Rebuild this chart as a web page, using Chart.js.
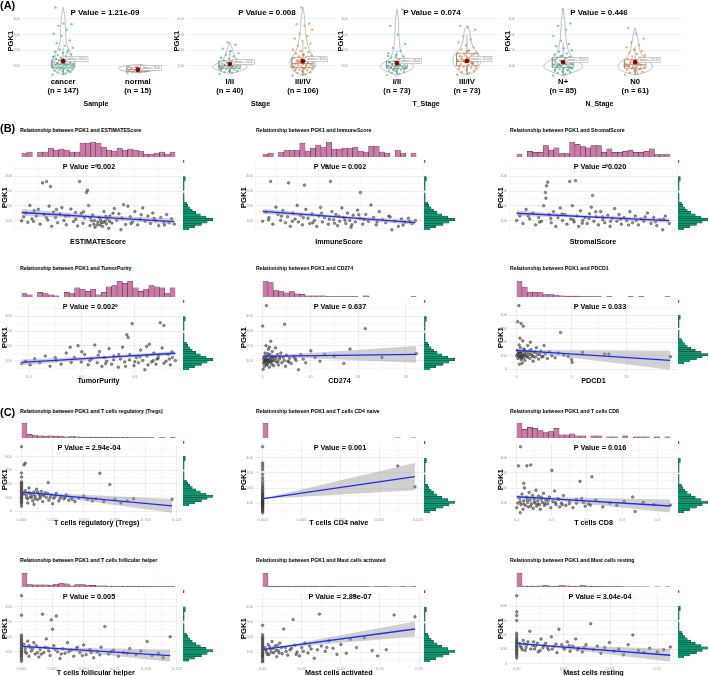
<!DOCTYPE html>
<html>
<head>
<meta charset="utf-8">
<script src="https://cdn.jsdelivr.net/npm/chart.js"></script>
<style>
  body { margin: 0; background: #fff; }
  #fig { position: relative; width: 709px; height: 676px; overflow: hidden; font-family: Arial, "Liberation Sans", sans-serif; }
  #fig canvas { position: absolute; }
  .t { position: absolute; font-weight: bold; color: #000; white-space: nowrap; line-height: 1; }
</style>
</head>
<body>
<div id="fig"></div>
<script>
// ---------- panel A: PGK1 by clinical group ----------
const aXTitles = ['Sample', 'Stage', 'T_Stage', 'N_Stage'];
const aGroupNames = [['cancer', 'normal'], ['I/II', 'III/IV'], ['I/II', 'III/IV'], ['N+', 'N0']];
const aGroupN = [[147, 15], [40, 106], [73, 73], [85, 61]];
const aPValues = ['1.21e-09', '0.008', '0.074', '0.446'];
const aMeans = [[130, 76], [112, 130], [118, 132], [125, 124]];
// [lower whisker, Q1, median, Q3, upper whisker]
const aBoxes = [
  [[45, 88, 112, 140, 215], [57, 65, 78, 92, 108]],
  [[55, 85, 100, 132, 200], [40, 90, 115, 155, 250]],
  [[45, 85, 100, 130, 200], [45, 100, 128, 180, 300]],
  [[40, 90, 112, 155, 250], [45, 85, 108, 140, 225]]
];
// violin outline: [PGK1, half width]
const violinCancer = [[42,0],[55,0.05],[65,0.09],[80,0.13],[95,0.155],[115,0.16],[130,0.15],[160,0.12],[200,0.08],[240,0.045],[300,0.035],[360,0.03],[420,0.02],[472,0]];
const violinNormal = [[57,0],[65,0.14],[75,0.24],[88,0.26],[100,0.17],[110,0]];
const violinStage12 = [[50,0],[65,0.12],[80,0.2],[95,0.24],[110,0.2],[130,0.12],[160,0.07],[200,0.04],[252,0]];
const violinStage34 = [[40,0],[55,0.08],[75,0.14],[100,0.17],[130,0.18],[160,0.14],[200,0.09],[250,0.06],[300,0.04],[360,0.03],[420,0.02],[472,0]];
const violinT12 = [[40,0],[60,0.12],[80,0.21],[100,0.24],[120,0.19],[150,0.1],[200,0.05],[260,0.035],[330,0.025],[400,0.02],[462,0]];
const violinT34 = [[43,0],[60,0.1],[90,0.16],[120,0.19],[150,0.2],[180,0.16],[220,0.09],[270,0.05],[320,0.04],[357,0]];
const violinNpos = [[38,0],[60,0.14],[80,0.24],[100,0.27],[125,0.22],[150,0.14],[190,0.08],[240,0.05],[300,0.035],[380,0.025],[462,0]];
const violinN0 = [[43,0],[60,0.14],[80,0.22],[100,0.24],[125,0.2],[150,0.13],[190,0.07],[240,0.05],[290,0.03],[345,0]];

const ptsCancer = [45,52,58,62,66,70,73,76,79,82,85,88,90,92,95,97,100,102,105,107,110,112,115,118,120,123,126,130,133,137,140,144,148,152,157,162,168,175,182,190,198,205,215,228,245,262,290,305,330,355,365,370,472,68,88,98,108,116,128,142,160,185];
const ptsNormal = [55,60,62,66,68,70,72,75,78,80,84,88,92,98,105];
const ptsStage12 = [50,58,62,68,72,75,78,82,85,88,90,93,95,98,100,103,106,110,114,118,122,126,130,135,140,146,152,160,170,182,195,210,235,250,80,92,108,125,65,88];
const ptsStage34 = [40,48,55,60,65,70,74,78,82,85,88,92,95,98,100,104,108,112,116,120,124,128,132,136,140,145,150,155,160,166,172,180,188,196,205,215,228,242,258,275,290,305,330,355,365,370,472,90,110,130,150,170,75,118,142,102,86,126];
const ptsT12 = [42,50,56,62,66,70,74,78,82,86,90,94,98,102,106,110,114,118,122,127,132,138,145,152,160,170,182,196,215,240,300,355,460,85,95,105,115,80,100,125,140,72,92,108,88,130,155,165];
const ptsT34 = [45,55,62,70,76,82,88,94,100,106,112,118,124,130,136,142,148,155,162,170,178,186,195,205,218,232,250,270,290,330,345,355,110,128,140,150,160,175,190,98,120,135,85,200,145,115,165,180];
const ptsNpos = [40,48,55,60,65,70,75,80,84,88,92,96,100,104,108,112,116,120,125,130,135,140,146,152,158,165,172,180,190,200,212,225,240,260,290,330,355,370,460,78,94,102,110,118,98,86,128,138,150,106,90,115,142,72,162];
const ptsN0 = [45,52,58,64,70,75,80,85,90,95,100,105,110,115,120,126,132,138,145,152,160,168,176,185,195,205,218,232,250,275,305,340,82,92,98,108,118,128,88,102,112,140,155,72,96];

const aViolins = [[violinCancer, violinNormal], [violinStage12, violinStage34], [violinT12, violinT34], [violinNpos, violinN0]];
const aPoints = [[ptsCancer, ptsNormal], [ptsStage12, ptsStage34], [ptsT12, ptsT34], [ptsNpos, ptsN0]];

// ---------- panels B, C: PGK1 vs scores / immune cells ----------
// PGK1 marginal histogram, 30 bins over [35, 480]
const pgk1Range = [35, 480];
const pgk1Counts = [5,10,16,21,26,20,15,11,8,6,4,3,1,1,1,1,0,1,1,1,1,2,2,0,0,0,0,0,0,1];

const estimatePts = [[-1960,98],[-1880,125],[-1790,152],[-1720,88],[-1640,203],[-1560,112],[-1470,167],[-1390,131],[-1310,176],[-1240,76],[-1144,355],[-1080,142],[-988,365],[-940,104],[-890,198],[-833,330],[-790,62],[-720,158],[-640,121],[-560,86],[-470,146],[-390,188],[-310,101],[-220,72],[-130,133],[-40,178],[60,94],[140,155],[220,64],[296,365],[360,149],[430,82],[490,118],[568,290],[607,305],[650,202],[700,66],[760,99],[810,138],[850,76],[900,56],[957,472],[1010,91],[1060,121],[1090,70],[1140,86],[1190,61],[1250,162],[1290,96],[1340,77],[1380,112],[1430,48],[1480,131],[1560,84],[1650,182],[1740,102],[1830,146],[1910,38],[2010,208],[2090,74],[2180,198],[2270,126],[2360,91],[2450,162],[2560,71],[2660,109],[2760,186],[2850,96],[2960,131],[3060,81],[3150,152],[3270,101],[3380,66],[3460,121],[3580,89],[3690,141],[3780,86],[3880,112],[3990,76],
  [-1500,95],[-1000,120],[-600,175],[-250,130],[150,110],[450,160],[720,120],[880,100],[980,72],[1120,105],[1220,88],[1320,130],[1460,95],[1600,150],[1950,118],[2300,80],[2700,140],[3200,115],[3600,70]];
const immunePts = [[-736,96],[-660,158],[-590,121],[-552,365],[-500,76],[-430,191],[-380,141],[-320,102],[-270,168],[-210,86],[-160,126],[-138,355],[-100,62],[-40,151],[10,111],[60,203],[90,91],[140,136],[180,71],[230,340],[260,176],[310,116],[350,81],[400,146],[460,101],[510,61],[560,131],[600,189],[640,91],[690,121],[736,472],[780,76],[828,365],[860,161],[900,106],[950,141],[990,66],[1040,96],[1090,186],[1130,121],[1180,81],[1220,151],[1270,101],[1300,56],[1350,136],[1400,91],[1450,171],[1500,116],[1517,290],[1570,76],[1640,141],[1700,96],[1760,206],[1820,121],[1880,71],[1950,161],[2030,106],[2100,86],[2170,131],[2240,38],[2310,96],[2390,61],[2460,111],[2540,91],[2620,116],[2700,81],[2782,101],
  [-600,105],[-300,130],[-50,95],[200,120],[420,85],[620,150],[800,110],[920,82],[1020,128],[1160,103],[1320,72],[1480,140],[1600,108],[1900,92],[2200,125],[2500,70],[2650,95]];
const stromalPts = [[-1711,101],[-1640,131],[-1570,81],[-1500,176],[-1420,111],[-1350,151],[-1290,71],[-1220,121],[-1160,96],[-1110,201],[-1070,290],[-1060,251],[-1045,335],[-1020,360],[-990,141],[-940,86],[-890,161],[-840,61],[-790,121],[-740,186],[-690,101],[-640,141],[-590,76],[-530,365],[-510,111],[-470,201],[-430,91],[-400,370],[-370,131],[-330,61],[-290,166],[-240,101],[-190,121],[-140,81],[-90,146],[-50,191],[-20,270],[10,96],[60,126],[110,71],[160,161],[210,106],[250,86],[290,472],[320,136],[370,61],[420,116],[470,181],[520,96],[570,141],[620,76],[680,121],[740,101],[810,161],[870,86],[930,131],[1000,71],[1060,111],[1120,96],[1200,151],[1280,81],[1340,121],[1410,66],[1480,106],[1540,38],[1600,131],[1689,81],
  [-1450,130],[-1200,90],[-950,115],[-700,145],[-450,105],[-250,82],[-100,115],[50,160],[200,125],[380,95],[600,110],[780,70],[950,100],[1150,125],[1380,92],[1560,110]];
const purityPts = [[0.373,81],[0.388,96],[0.405,71],[0.422,112],[0.441,86],[0.462,131],[0.48,62],[0.503,101],[0.522,76],[0.541,151],[0.556,191],[0.572,121],[0.586,201],[0.598,91],[0.611,141],[0.624,71],[0.637,111],[0.649,206],[0.658,86],[0.667,161],[0.676,61],[0.685,121],[0.694,96],[0.703,181],[0.712,76],[0.721,131],[0.73,472],[0.738,56],[0.746,111],[0.754,191],[0.762,91],[0.77,275],[0.775,256],[0.781,141],[0.79,350],[0.797,66],[0.806,121],[0.814,86],[0.822,171],[0.83,101],[0.838,38],[0.846,131],[0.855,211],[0.863,91],[0.872,151],[0.88,76],[0.888,116],[0.896,356],[0.903,186],[0.91,337],[0.918,96],[0.926,141],[0.934,71],[0.942,121],[0.953,101],[0.845,196],[0.765,61],[0.72,106],[0.662,136],[0.884,111],
  [0.5,120],[0.56,88],[0.63,100],[0.69,80],[0.74,140],[0.78,105],[0.8,92],[0.82,126],[0.85,71],[0.87,100],[0.89,135],[0.91,82],[0.93,111],[0.94,160],[0.6,160]];
const cd274Pts = [[0,334],[0.1,41],[0.2,81],[0.3,121],[0.4,61],[0.5,151],[0.6,96],[0.7,201],[0.8,472],[0.85,111],[0.9,71],[1.0,131],[1.1,86],[1.2,176],[1.3,101],[1.4,56],[1.5,141],[1.6,91],[1.7,231],[1.8,116],[1.9,76],[2.0,161],[2.1,101],[2.3,66],[2.5,126],[2.7,186],[2.9,91],[3.1,141],[3.3,71],[3.5,111],[3.8,151],[4.0,86],[4.3,121],[4.6,346],[4.8,61],[5.0,136],[5.3,96],[5.6,116],[6.0,81],[6.5,126],[7.0,101],[7.5,38],[8.0,141],[8.5,111],[9.0,86],[10.1,166],[11,121],[12,96],[13,141],[15,131],[17,81],[18.3,178],[21.5,316],[25,121],[32.2,148],[0.3,91],[0.6,106],[1.1,146],[2.2,121],[1.4,191],
  [0.2,110],[0.4,95],[0.6,130],[0.8,75],[1.0,105],[1.2,90],[1.5,115],[1.8,95],[2.0,130],[2.4,100],[2.8,115],[3.2,92],[3.6,125],[4.5,100],[5.5,90],[6.8,115]];
const pdcd1Pts = [[0,101],[0.05,141],[0.1,353],[0.12,81],[0.2,472],[0.22,181],[0.26,121],[0.3,96],[0.34,161],[0.4,340],[0.42,71],[0.46,131],[0.5,106],[0.55,211],[0.6,320],[0.62,86],[0.66,151],[0.7,116],[0.75,66],[0.8,136],[0.9,96],[1.0,176],[1.1,111],[1.2,81],[1.25,201],[1.3,146],[1.4,101],[1.5,61],[1.6,126],[1.7,91],[1.8,161],[1.9,111],[2.0,76],[2.2,136],[2.4,96],[2.5,176],[2.6,116],[2.8,81],[3.0,131],[3.2,101],[3.5,86],[3.8,121],[4.0,273],[4.3,106],[4.7,96],[5.0,73],[5.05,53],[6.0,126],[8.0,113],[8.4,113],[14.0,93],[0.3,231],[0.25,38],[0.5,46],[0.15,121],[0.35,91],
  [0.1,110],[0.2,95],[0.3,130],[0.4,115],[0.45,85],[0.6,100],[0.7,140],[0.8,105],[0.9,125],[1.0,90],[1.1,135],[1.3,115],[1.5,95],[1.7,130],[2.1,110],[2.3,92]];
const tregsPts = [[0,472],[0,280],[0,250],[0,215],[0,205],[0,195],[0,185],[0,175],[0,165],[0,155],[0,145],[0,135],[0,125],[0,115],[0,105],[0,95],[0,85],[0,75],[0,65],[0,55],[0,38],[0.002,339],[0.003,352],[0.003,151],[0.004,121],[0.005,91],[0.005,61],[0.006,171],[0.007,131],[0.008,101],[0.009,76],[0.01,141],[0.01,51],[0.011,111],[0.012,161],[0.013,86],[0.014,126],[0.015,96],[0.016,146],[0.017,71],[0.018,116],[0.019,136],[0.02,101],[0.0215,210],[0.022,81],[0.024,121],[0.025,56],[0.026,96],[0.028,131],[0.03,76],[0.032,111],[0.034,91],[0.036,121],[0.038,81],[0.04,101],[0.043,71],[0.046,96],[0.05,111],[0.053,86],[0.057,76],[0.06,91],[0.063,278],[0.066,71],[0.071,196],[0.075,86],[0.08,61],[0.085,76],[0.09,91],[0.121,87],
  [0.002,126],[0.004,101],[0.006,136],[0.007,106],[0.009,121],[0.011,91],[0.013,141],[0.015,111],[0.017,121],[0.021,131],[0.023,101],[0.027,111],[0.031,96],[0.035,101],[0.041,86]];
const cd4Pts = [[0,38],[0,48],[0,56],[0,63],[0,70],[0,76],[0,82],[0,88],[0,93],[0,98],[0,103],[0,108],[0,113],[0,118],[0,124],[0,130],[0,137],[0,144],[0,151],[0,159],[0,167],[0,176],[0,186],[0,196],[0,207],[0,219],[0,233],[0,250],[0,268],[0,290],[0,320],[0,335],[0,350],[0,365],[0,472],[0.0174,345],[0.0196,208]];
const cd8Pts = [[0,71],[0.003,101],[0.005,346],[0.008,131],[0.011,472],[0.012,91],[0.015,161],[0.018,61],[0.02,116],[0.022,201],[0.025,86],[0.028,141],[0.029,346],[0.031,106],[0.033,76],[0.035,171],[0.038,121],[0.04,352],[0.042,96],[0.045,151],[0.047,66],[0.05,131],[0.052,101],[0.055,186],[0.057,81],[0.06,116],[0.062,146],[0.065,91],[0.067,61],[0.07,126],[0.073,106],[0.076,166],[0.079,86],[0.083,121],[0.088,96],[0.093,141],[0.097,71],[0.1,316],[0.103,111],[0.108,181],[0.112,91],[0.117,131],[0.122,76],[0.127,101],[0.133,151],[0.14,86],[0.15,116],[0.16,71],[0.17,101],[0.18,244],[0.185,131],[0.195,81],[0.205,96],[0.214,274],[0.225,121],[0.245,76],[0.265,101],[0.285,86],[0.306,112],[0.33,141],[0.337,46],[0.36,106],[0.39,91],[0.437,88],[0.01,38],[0.02,231],
  [0.01,110],[0.02,95],[0.03,125],[0.04,80],[0.05,112],[0.06,95],[0.07,140],[0.08,100],[0.09,118],[0.11,105],[0.12,125],[0.13,90],[0.15,98],[0.17,125],[0.19,105],[0.21,88]];
const tfhPts = [[0,472],[0,343],[0,212],[0,198],[0,186],[0,175],[0,165],[0,155],[0,145],[0,135],[0,125],[0,115],[0,105],[0,95],[0,85],[0,75],[0,65],[0,52],[0,38],[0.002,151],[0.003,121],[0.004,91],[0.005,171],[0.006,71],[0.007,131],[0.008,106],[0.01,161],[0.011,86],[0.012,141],[0.014,66],[0.015,116],[0.017,350],[0.018,96],[0.02,186],[0.021,126],[0.023,76],[0.024,312],[0.025,250],[0.026,141],[0.028,337],[0.029,101],[0.031,56],[0.033,121],[0.035,91],[0.037,161],[0.04,111],[0.042,71],[0.045,131],[0.047,96],[0.05,146],[0.052,81],[0.055,116],[0.058,61],[0.061,101],[0.064,131],[0.067,268],[0.07,86],[0.074,111],[0.078,71],[0.082,96],[0.087,121],[0.092,81],[0.096,106],[0.101,169],[0.105,76],[0.11,91],[0.114,61],[0.1195,200],
  [0.003,101],[0.006,141],[0.009,121],[0.013,95],[0.016,85],[0.019,131],[0.022,106],[0.027,116],[0.032,86],[0.038,101],[0.044,121],[0.049,76],[0.056,96],[0.063,81],[0.072,101],[0.085,91]];
const mastActPts = [[0,277],[0,215],[0,200],[0,190],[0,180],[0,170],[0,160],[0,150],[0,140],[0,130],[0,120],[0,110],[0,100],[0,92],[0,84],[0,76],[0,68],[0,58],[0,45],[0,38],[0.003,131],[0.005,101],[0.007,151],[0.008,86],[0.01,121],[0.012,171],[0.014,96],[0.016,141],[0.018,71],[0.02,111],[0.022,161],[0.025,91],[0.027,253],[0.029,131],[0.032,81],[0.035,116],[0.039,315],[0.041,146],[0.044,101],[0.047,76],[0.05,131],[0.054,161],[0.058,96],[0.062,121],[0.066,61],[0.0725,351],[0.075,141],[0.08,106],[0.085,176],[0.09,126],[0.095,86],[0.1,151],[0.107,94],[0.112,186],[0.117,472],[0.12,131],[0.13,196],[0.14,111],[0.147,75],[0.158,117],[0.168,345],[0.1947,333],
  [0.004,116],[0.006,86],[0.009,136],[0.011,101],[0.013,126],[0.017,111],[0.019,146],[0.021,96],[0.024,131],[0.03,106],[0.037,126],[0.043,86],[0.052,106],[0.06,141],[0.07,116],[0.082,131]];
const mastRestPts = [[0,472],[0,360],[0,335],[0,300],[0,210],[0,195],[0,180],[0,168],[0,156],[0,145],[0,135],[0,125],[0,115],[0,105],[0,95],[0,85],[0,75],[0,65],[0,52],[0,38],[0.003,141],[0.005,111],[0.007,161],[0.009,91],[0.011,131],[0.014,225],[0.015,101],[0.018,151],[0.02,121],[0.023,81],[0.026,171],[0.028,111],[0.031,141],[0.034,96],[0.037,186],[0.04,121],[0.043,76],[0.045,238],[0.048,131],[0.051,101],[0.054,151],[0.057,86],[0.06,121],[0.063,171],[0.066,106],[0.07,81],[0.074,131],[0.079,277],[0.082,96],[0.086,121],[0.09,71],[0.094,111],[0.099,146],[0.104,86],[0.109,101],[0.114,61],[0.119,131],[0.124,199],[0.13,91],[0.136,76],[0.142,106],[0.15,81],[0.157,96],[0.164,115],
  [0.004,121],[0.006,96],[0.008,136],[0.01,111],[0.012,151],[0.017,126],[0.019,101],[0.022,141],[0.025,91],[0.029,126],[0.033,111],[0.038,101],[0.042,136],[0.05,111],[0.056,126],[0.065,96],[0.072,111]];

// regression fit: [x, lower 95% CI, fit, upper 95% CI]
const estimateFit = [[-1960,132,155,178],[1000,112,124,136],[3990,72,93,114]];
const immuneFit = [[-736,144,162,180],[1000,116,125,134],[2782,71,87,103]];
const stromalFit = [[-1711,132,150,168],[-100,117,126,135],[1689,84,100,116]];
const purityFit = [[0.373,68,88,108],[0.72,116,125,134],[0.953,137,150,163]];
const cd274Fit = [[0,122,130,138],[3.5,124,131,138],[32.2,85,142,199]];
const pdcd1Fit = [[0,131,140,149],[1,127,135,143],[14,-3,67,137]];
const tregsFit = [[0,132,141,150],[0.012,124,131,138],[0.121,-10,40,90]];
const cd4Fit = [[0,124,130,136],[0.001,131,137,143],[0.0196,185,275,365]];
const cd8Fit = [[0,131,143,155],[0.08,123,132,141],[0.437,40,82,124]];
const tfhFit = [[0,127,137,147],[0.03,113,121,129],[0.1195,35,75,115]];
const mastActFit = [[0,111,118,125],[0.025,129,135,141],[0.1947,204,253,302]];
const mastRestFit = [[0,132,140,148],[0.03,119,125,131],[0.164,13,58,103]];

// marginal histograms of the x variable (29 bins between data min and max)
const estimateHist = [4,5,0,5,5,9,7,8,7,5,5,14,14,15,14,10,7,6,9,7,8,7,6,3,3,4,5,3,5];
const immuneHist = [3,4,0,5,7,7,7,14,6,9,12,10,15,8,8,9,9,10,6,5,11,11,5,4,0,7,4,0,4];
const stromalHist = [2,0,5,4,4,10,6,8,3,3,13,11,9,8,10,10,4,7,4,4,5,6,4,4,5,7,2,2,2];
const purityHist = [3,2,0,4,3,2,1,0,4,3,8,7,5,7,2,4,9,10,14,12,14,8,5,7,10,9,8,3,8];
const cd274Hist = [30,27,12,10,8,10,6,5,2,2,2,2,1,1,1,1,1,1,0,2,0,0,0,0,0,0,0,0,1];
const pdcd1Hist = [40,25,12,12,11,6,6,5,3,2,2,2,1,1,1,1,0,1,0,0,0,1,0,1,0,0,0,0,1];
const tregsHist = [50,12,8,7,6,7,6,5,4,5,4,3,3,3,3,2,2,2,1,2,1,1,1,1,1,0,1,0,1];
const cd4Hist = [143,0,0,0,0,0,0,0,0,0,0,0,0,0,0,0,0,0,0,0,0,0,0,0,0,1,0,0,1];
const cd8Hist = [14,8,10,9,7,5,6,9,3,3,4,2,2,0,2,2,0,1,1,0,2,0,1,1,1,0,1,0,1];
const tfhHist = [45,8,7,7,7,6,9,13,10,4,8,8,6,5,4,4,3,3,3,3,2,2,2,2,1,1,1,1,1];
const mastActHist = [80,5,4,4,5,4,4,5,4,4,3,3,4,2,2,3,2,2,2,2,1,2,2,2,1,1,2,1,2];
const mastRestHist = [60,4,4,4,5,6,4,3,6,5,4,4,6,4,3,3,2,2,2,2,1,1,1,1,1,0,1,0,1];

const scNames = ['ESTIMATEScore', 'ImmuneScore', 'StromalScore', 'TumorPurity', 'CD274', 'PDCD1',
  'T cells regulatory (Tregs)', 'T cells CD4 naive', 'T cells CD8', 'T cells follicular helper', 'Mast cells activated', 'Mast cells resting'];
const scPValues = ['0.002', '0.002', '0.020', '0.002', '0.637', '0.033', '2.94e-04', '0.001', '0.016', '0.005', '2.89e-07', '3.04e-04'];
const scXStep = [2000, 1000, 1000, 0.2, 10, 5, 0.025, 0.005, 0.1, 0.025, 0.05, 0.05];
const scXDec = [0, 0, 0, 1, 0, 0, 3, 3, 1, 3, 2, 2];

const panels = [
  {pts: estimatePts, fit: estimateFit, hist: estimateHist},
  {pts: immunePts, fit: immuneFit, hist: immuneHist},
  {pts: stromalPts, fit: stromalFit, hist: stromalHist},
  {pts: purityPts, fit: purityFit, hist: purityHist},
  {pts: cd274Pts, fit: cd274Fit, hist: cd274Hist},
  {pts: pdcd1Pts, fit: pdcd1Fit, hist: pdcd1Hist},
  {pts: tregsPts, fit: tregsFit, hist: tregsHist},
  {pts: cd4Pts, fit: cd4Fit, hist: cd4Hist},
  {pts: cd8Pts, fit: cd8Fit, hist: cd8Hist},
  {pts: tfhPts, fit: tfhFit, hist: tfhHist},
  {pts: mastActPts, fit: mastActFit, hist: mastActHist},
  {pts: mastRestPts, fit: mastRestFit, hist: mastRestHist}
];

// ---------- layout ----------
const FONT = 'Arial, "Liberation Sans", sans-serif';
const PINK = '#CC79A7', GREEN = '#009E73';
const GROUP_COLORS = ['rgba(27,158,119,0.55)', 'rgba(217,95,2,0.5)'];
const aLayout = [
  {left: 22, right: 170, yW: 16, min: 0.45, max: 2.43, pX: 105},
  {left: 186, right: 335, yW: 14, min: 0.4, max: 2.44, pX: 267},
  {left: 350, right: 502, yW: 14, min: 0.33, max: 2.5, pX: 432},
  {left: 517, right: 682, yW: 14, min: 0.36, max: 2.65, pX: 599}
];
const aPlotT = 1, aPlotB = 77, aXH = 31;
const cols = [
  {titleX: 20, plotL: 14, plotR: 183, yW: 14, histR: 213, pX: 89},
  {titleX: 256, plotL: 255, plotR: 424, yW: 16, histR: 455, pX: 340},
  {titleX: 510, plotL: 509, plotR: 678, yW: 13, histR: 708, pX: 600}
];
const rows = [
  {titleY: 131, histT: 142, plotT: 158, plotB: 233, xTitleY: 242},
  {titleY: 269, histT: 281, plotT: 298, plotB: 373, xTitleY: 381},
  {titleY: 412, histT: 423, plotT: 439, plotB: 516, xTitleY: 523},
  {titleY: 561, histT: 573, plotT: 588, plotB: 665, xTitleY: 673}
];

Chart.defaults.font.family = FONT;
Chart.defaults.animation = false;
Chart.defaults.plugins.legend.display = false;
Chart.defaults.plugins.tooltip.enabled = false;
Chart.defaults.layout.autoPadding = false;

const fig = document.getElementById('fig');

function addCanvas(x, y, w, h) {
  const c = document.createElement('canvas');
  c.width = w; c.height = h;
  c.style.left = x + 'px'; c.style.top = y + 'px';
  c.style.width = w + 'px'; c.style.height = h + 'px';
  fig.appendChild(c);
  return c;
}

function addText(txt, x, y, size, center) {
  const d = document.createElement('div');
  d.className = 't';
  d.textContent = txt;
  d.style.fontSize = size + 'px';
  d.style.top = (y - size * 0.49) + 'px';
  d.style.left = x + 'px';
  if (center) d.style.transform = 'translateX(-50%)';
  fig.appendChild(d);
}

function lineSet(pts, color, width) {
  return {data: pts.map(p => ({x: p[0], y: p[1]})), showLine: true, borderColor: color, borderWidth: width || 0.6, pointRadius: 0, tension: 0};
}

// deterministic spread of the jittered dots
function jitter(k) { return (((k * 0.6180339) % 1) - 0.5) * 0.28; }

function isMajor(v, step) { return Math.abs(v / step - Math.round(v / step)) < 1e-6; }

// small boxed label next to each group mean
const meanLabels = {
  id: 'meanLabels',
  afterDatasetsDraw(chart, args, opts) {
    const {ctx, scales: {x, y}} = chart;
    ctx.save();
    ctx.font = '2.6px ' + FONT;
    ctx.textBaseline = 'middle';
    opts.values.forEach((m, g) => {
      const px = x.getPixelForValue(g + 1) + 3, py = y.getPixelForValue(m) - 4.5;
      const txt = 'μ̂mean = ' + m.toFixed(2);
      const w = ctx.measureText(txt).width + 3;
      ctx.fillStyle = 'rgba(255,255,255,0.9)';
      ctx.fillRect(px, py, w, 5);
      ctx.strokeStyle = '#9a9a9a';
      ctx.lineWidth = 0.5;
      ctx.strokeRect(px, py, w, 5);
      ctx.fillStyle = '#777';
      ctx.fillText(txt, px + 1.5, py + 2.6);
    });
    ctx.restore();
  }
};

// ---------- panel A ----------
function groupPanel(i) {
  const L = aLayout[i];
  const cv = addCanvas(L.left - L.yW, aPlotT, L.right - L.left + L.yW, aPlotB - aPlotT + aXH);
  const ds = [];
  ds.push({data: aMeans[i].map((m, g) => ({x: g + 1, y: m})), pointRadius: 2.4, backgroundColor: '#8b0000', borderWidth: 0});
  aBoxes[i].forEach((b, g) => {
    const c = g + 1, w = 0.15;
    ds.push(lineSet([[c - w, b[1]], [c + w, b[1]], [c + w, b[3]], [c - w, b[3]], [c - w, b[1]]], '#8a8a8a'));
    ds.push(lineSet([[c - w, b[2]], [c + w, b[2]]], '#8a8a8a', 0.8));
    ds.push(lineSet([[c, b[3]], [c, b[4]]], '#8a8a8a'));
    ds.push(lineSet([[c, b[1]], [c, b[0]]], '#8a8a8a'));
  });
  aViolins[i].forEach((v, g) => {
    const c = g + 1;
    const right = v.map(d => ({x: c + d[1], y: d[0]}));
    const left = v.slice().reverse().map(d => ({x: c - d[1], y: d[0]}));
    ds.push({data: right.concat(left), showLine: true, tension: 0.3, borderColor: '#a6a6a6', borderWidth: 0.7, pointRadius: 0});
  });
  aPoints[i].forEach((vals, g) => {
    ds.push({data: vals.map((v, k) => ({x: g + 1 + jitter(k), y: v})), pointRadius: 1.2, backgroundColor: GROUP_COLORS[g], borderWidth: 0});
  });
  new Chart(cv, {
    type: 'scatter',
    data: {datasets: ds},
    plugins: [meanLabels],
    options: {
      responsive: false,
      plugins: {meanLabels: {values: aMeans[i]}},
      scales: {
        x: {
          type: 'linear', min: L.min, max: L.max,
          afterBuildTicks: s => { s.ticks = [{value: 1}, {value: 2}]; },
          ticks: {callback: v => [aGroupNames[i][v - 1], '(n = ' + aGroupN[i][v - 1] + ')'],
                  font: {size: 7.7, weight: 'bold'}, color: '#000', padding: 0, maxRotation: 0, autoSkip: false},
          grid: {display: false, drawTicks: false}, border: {display: false},
          title: {display: true, text: aXTitles[i], font: {size: 7, weight: 'bold'}, color: '#000', padding: 0},
          afterFit: s => { s.height = aXH; }
        },
        y: {
          min: 30, max: 485,
          ticks: {stepSize: 100, includeBounds: false, font: {size: 4}, color: '#999', padding: 2},
          grid: {color: '#e6e6e6', lineWidth: 0.6, drawTicks: false}, border: {display: false},
          title: {display: true, text: 'PGK1', font: {size: 7.6, weight: 'bold'}, color: '#000', padding: 0},
          afterFit: s => { s.width = L.yW; }
        }
      }
    }
  });
  addText('P Value = ' + aPValues[i], L.pX, 13, 8, true);
}

// ---------- panels B, C ----------
function limits(vals) {
  const lo = Math.min(...vals), hi = Math.max(...vals), pad = (hi - lo) * 0.05;
  return {lo, hi, min: lo - pad, max: hi + pad};
}

function scatterPanel(idx) {
  const p = panels[idx];
  const c = cols[idx % 3], r = rows[Math.floor(idx / 3)];
  const xs = limits(p.pts.map(d => d[0]));
  const ys = limits(p.pts.map(d => d[1]).concat(p.fit.map(f => f[1]), p.fit.map(f => f[3])));
  const step = scXStep[idx], dec = scXDec[idx];
  const plotW = c.plotR - c.plotL, plotH = r.plotB - r.plotT;
  const xH = Math.round(r.xTitleY + 4.2 - r.plotB);

  // main scatter with regression line and confidence band
  const cv = addCanvas(c.plotL - c.yW, r.plotT, plotW + c.yW, plotH + xH);
  new Chart(cv, {
    type: 'scatter',
    data: {datasets: [
      {data: p.fit.map(f => ({x: f[0], y: f[2]})), showLine: true, borderColor: '#1c2cf5', borderWidth: 1.3, pointRadius: 0, tension: 0},
      {data: p.fit.map(f => ({x: f[0], y: f[3]})), showLine: true, borderWidth: 0, pointRadius: 0, fill: false},
      {data: p.fit.map(f => ({x: f[0], y: f[1]})), showLine: true, borderWidth: 0, pointRadius: 0, fill: '-1', backgroundColor: 'rgba(150,150,150,0.45)'},
      {data: p.pts.map(d => ({x: d[0], y: d[1]})), pointRadius: 1.3, backgroundColor: 'rgba(70,70,70,0.55)', borderColor: 'rgba(30,30,30,0.85)', borderWidth: 0.5}
    ]},
    options: {
      responsive: false,
      scales: {
        x: {
          type: 'linear', min: xs.min, max: xs.max,
          ticks: {stepSize: step / 2, includeBounds: false, autoSkip: false, maxRotation: 0, padding: 1, font: {size: 4}, color: '#999',
                  callback: v => isMajor(v, step) ? v.toFixed(dec) : ''},
          grid: {color: ctx => isMajor(ctx.tick.value, step) ? '#e3e3e3' : '#f1f1f1', lineWidth: 0.6, drawTicks: false},
          border: {display: false},
          title: {display: true, text: scNames[idx], font: {size: 7.2, weight: 'bold'}, color: '#000', padding: 0},
          afterFit: s => { s.height = xH; }
        },
        y: {
          min: ys.min, max: ys.max,
          ticks: {stepSize: 50, includeBounds: false, autoSkip: false, padding: 2, font: {size: 4}, color: '#999',
                  callback: v => isMajor(v, 100) ? v.toFixed(0) : ''},
          grid: {color: ctx => isMajor(ctx.tick.value, 100) ? '#e3e3e3' : '#f1f1f1', lineWidth: 0.6, drawTicks: false},
          border: {display: false},
          title: {display: true, text: 'PGK1', font: {size: 7.8, weight: 'bold'}, color: '#000', padding: 0},
          afterFit: s => { s.width = c.yW; }
        }
      }
    }
  });

  // top marginal histogram of the x variable: bins span [lo, hi], placed on the same x range
  const bw = (xs.hi - xs.lo) / p.hist.length;
  const padX = (xs.lo - xs.min) / (xs.max - xs.min) * plotW;
  const top = addCanvas(c.plotL, r.histT, plotW, r.plotT - 1 - r.histT);
  new Chart(top, {
    type: 'bar',
    data: {labels: p.hist.map((v, k) => (xs.lo + (k + 0.5) * bw).toPrecision(3)),
      datasets: [{data: p.hist, backgroundColor: PINK, borderColor: '#333', borderWidth: 0.5, barPercentage: 1, categoryPercentage: 1}]},
    options: {responsive: false, layout: {padding: {left: padX, right: padX}},
      scales: {x: {display: false}, y: {min: 0, max: Math.max(...p.hist), display: false}}}
  });

  // right marginal histogram of PGK1, aligned with the scatter's y range
  const pw = (pgk1Range[1] - pgk1Range[0]) / pgk1Counts.length;
  const padT = Math.max(0, (ys.max - pgk1Range[1]) / (ys.max - ys.min) * plotH);
  const padB = Math.max(0, (pgk1Range[0] - ys.min) / (ys.max - ys.min) * plotH);
  const side = addCanvas(c.plotR, r.plotT, c.histR - c.plotR, plotH);
  new Chart(side, {
    type: 'bar',
    data: {labels: pgk1Counts.map((v, k) => String(Math.round(pgk1Range[0] + (k + 0.5) * pw))),
      datasets: [{data: pgk1Counts, backgroundColor: GREEN, borderColor: '#333', borderWidth: 0.5, barPercentage: 1, categoryPercentage: 1}]},
    options: {responsive: false, indexAxis: 'y', layout: {padding: {top: padT, bottom: padB}},
      scales: {x: {min: 0, max: Math.max(...pgk1Counts), display: false},
               y: {reverse: true, display: false}}}
  });

  addText('Relationship between PGK1 and ' + scNames[idx], c.titleX, r.titleY, 5.2, false);
  addText('P Value = ' + scPValues[idx], c.pX, r.plotT + 9, 7.3, true);
}

for (let i = 0; i < 4; i++) groupPanel(i);
for (let i = 0; i < panels.length; i++) scatterPanel(i);
addText('(A)', 0, 5, 11, false);
addText('(B)', 0, 128, 11, false);
addText('(C)', 0, 412, 11, false);
</script>
</body>
</html>
